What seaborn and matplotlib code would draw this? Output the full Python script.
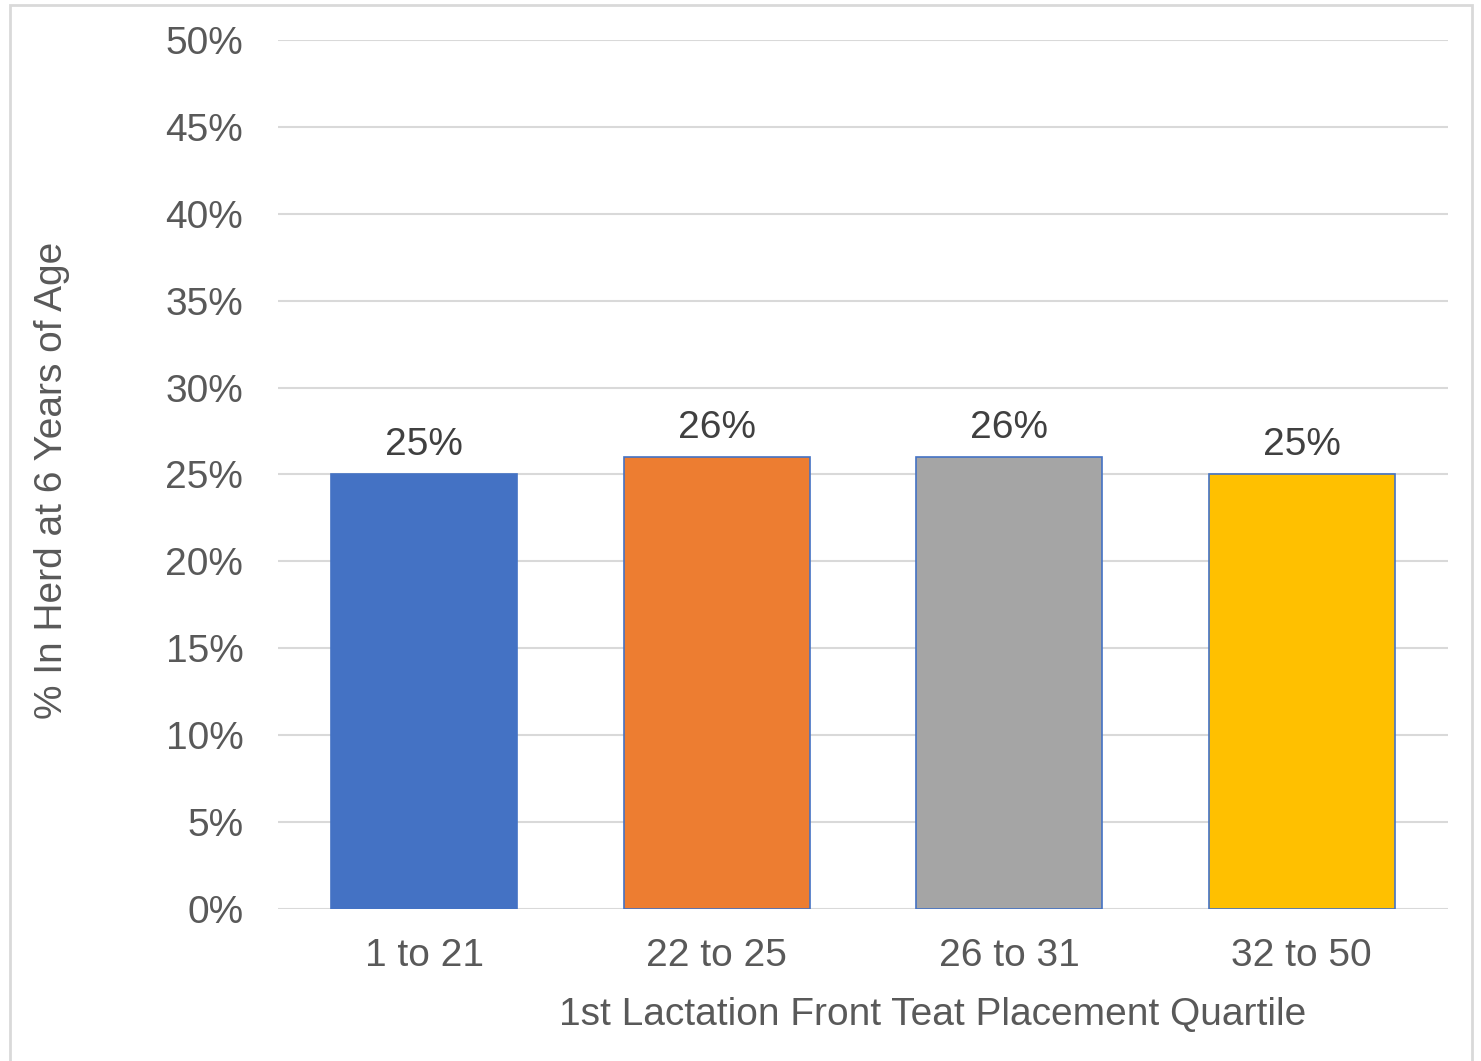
import pandas as pd
import matplotlib.pyplot as plt
import seaborn as sns
from matplotlib.patches import Rectangle
from matplotlib.ticker import FuncFormatter

# Data
quartiles = ['1 to 21', '22 to 25', '26 to 31', '32 to 50']
pct_in_herd = [25, 26, 26, 25]
bar_colors = ['#4472C4', '#ED7D31', '#A5A5A5', '#FFC000']

df = pd.DataFrame({'quartile': quartiles, 'pct': pct_in_herd})

sns.set_theme(style='white')
plt.rcParams['font.family'] = ['Liberation Sans', 'DejaVu Sans']

fig = plt.figure(figsize=(14.81, 10.61), dpi=100)
ax = fig.add_axes([278 / 1481, 152 / 1061, 1170 / 1481, 869 / 1061])

sns.barplot(data=df, x='quartile', y='pct', hue='quartile', palette=bar_colors,
            legend=False, width=0.636, saturation=1, edgecolor='#4472C4',
            linewidth=1.2, ax=ax, zorder=3)

ax.set_ylim(0, 50)
ax.set_xlim(-0.5, 3.5)
ax.set_yticks(range(0, 51, 5))
ax.yaxis.set_major_formatter(FuncFormatter(lambda v, p: f'{v:.0f}%'))
ax.grid(axis='y', color='#D9D9D9', linewidth=1.5, zorder=0)
ax.grid(axis='x', visible=False)
for s in ax.spines.values():
    s.set_visible(False)

fs = 28
ax.tick_params(axis='y', length=0, pad=25, labelsize=fs, labelcolor='#595959')
ax.tick_params(axis='x', length=0, pad=21, labelsize=fs, labelcolor='#595959')

# value labels above bars
for c in ax.containers:
    ax.bar_label(c, labels=[f'{v:.0f}%' for v in c.datavalues], padding=8,
                 fontsize=fs, color='#404040')

ax.set_xlabel('1st Lactation Front Teat Placement Quartile', fontsize=fs, color='#595959')
ax.set_ylabel('% In Herd at 6 Years of Age', fontsize=fs, color='#595959')
ax.xaxis.set_label_coords((933 - 278) / 1170, -0.122)
ax.xaxis.label.set_va('center')
ax.yaxis.set_label_coords((52 - 278) / 1170, (1061 - 480 - 152) / 869)
ax.yaxis.label.set_va('center')

# chart frame
fig.patches.append(Rectangle((10 / 1481, -0.05), 1462 / 1481, 1.05 - 5 / 1061,
                             transform=fig.transFigure, fill=False,
                             edgecolor='#D9D9D9', linewidth=2))

fig.savefig('out.png', dpi=100)
plt.close(fig)
